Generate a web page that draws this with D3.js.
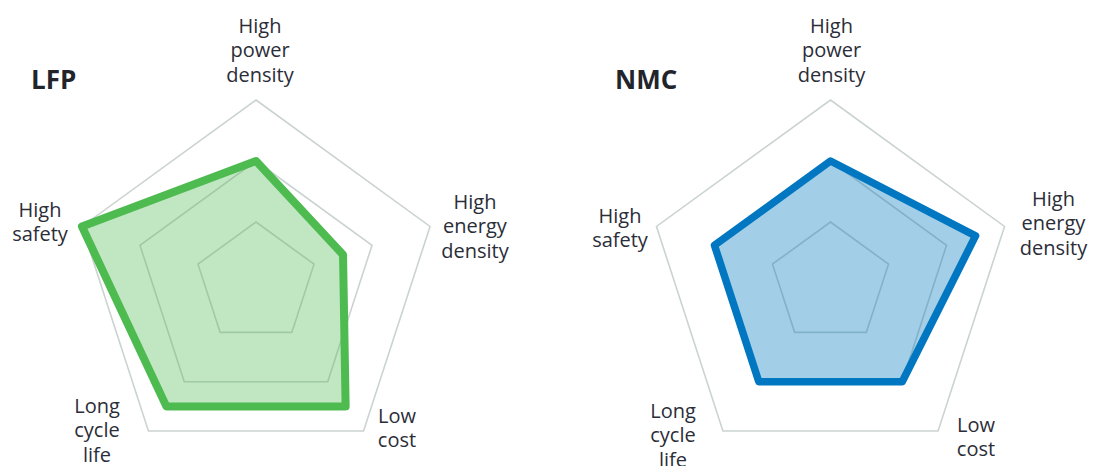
<!DOCTYPE html>
<html>
<head>
<meta charset="utf-8">
<script src="https://cdn.jsdelivr.net/npm/d3@7"></script>
<style>
  html, body { margin: 0; padding: 0; background: #ffffff; }
  svg { display: block; }
</style>
</head>
<body>
<svg id="chart" width="1094" height="466"></svg>
<script>
// Axis names (split into the lines they are drawn on)
const axisLabels = [
  ["High", "power", "density"],
  ["High", "energy", "density"],
  ["Low", "cost"],
  ["Long", "cycle", "life"],
  ["High", "safety"]
];

// Battery chemistries compared
const chemistries = ["LFP", "NMC"];

// Scores per axis, 0–3 scale, same order as axisLabels
const lfpScores = [2.0, 1.5, 2.5, 2.5, 3.0];
const nmcScores = [2.0, 2.5, 2.0, 2.0, 2.0];

// Grid rings
const ringLevels = [1, 2, 3];
const scoreMax = 3;

// ---- layout & style ----
const R = 183;
const cy = 283;
const panels = [
  {
    name: chemistries[0], scores: lfpScores, cx: 256,
    stroke: "#4dbb50", fill: "#4dbb50", fillOpacity: 0.35, strokeWidth: 8,
    title: [-225, -194],
    labels: [[4, -250], [219, -74], [141, 140], [-159, 130], [-216, -66]]
  },
  {
    name: chemistries[1], scores: nmcScores, cx: 830.5,
    stroke: "#0077c0", fill: "#0077c0", fillOpacity: 0.36, strokeWidth: 7.5,
    title: [-215.5, -194],
    labels: [[1, -250], [223, -77], [145.5, 149], [-157.5, 135], [-210.5, -60]]
  }
];

const svg = d3.select("#chart");
const n = axisLabels.length;
const angle = d3.scaleLinear().domain([0, n]).range([0, 2 * Math.PI]);
const radius = d3.scaleLinear().domain([0, scoreMax]).range([0, R]);

const polygon = d3.lineRadial()
  .angle((d, i) => angle(i))
  .curve(d3.curveLinearClosed);

panels.forEach(p => {
  const g = svg.append("g").attr("transform", `translate(${p.cx},${cy})`);

  // concentric pentagon rings
  g.selectAll("path.ring")
    .data(ringLevels)
    .join("path")
    .attr("class", "ring")
    .attr("d", lv => polygon.radius(() => radius(lv))(d3.range(n)))
    .attr("fill", "none")
    .attr("stroke", "#cbd3d0")
    .attr("stroke-width", 1.6);

  // score polygon
  g.append("path")
    .datum(p.scores)
    .attr("d", polygon.radius(d => radius(d)))
    .attr("fill", p.fill)
    .attr("fill-opacity", p.fillOpacity)
    .attr("stroke", p.stroke)
    .attr("stroke-width", p.strokeWidth)
    .attr("stroke-linejoin", "round");

  // axis labels
  const lab = g.selectAll("text.axis")
    .data(axisLabels)
    .join("text")
    .attr("class", "axis")
    .attr("x", (d, i) => p.labels[i][0])
    .attr("y", (d, i) => p.labels[i][1])
    .attr("text-anchor", "middle")
    .attr("font-family", "'Open Sans', 'Noto Sans', sans-serif")
    .attr("font-size", 20)
    .attr("fill", "#2b2d38");
  lab.each(function(lines, i) {
    d3.select(this).selectAll("tspan")
      .data(lines)
      .join("tspan")
      .attr("x", p.labels[i][0])
      .attr("dy", (d, k) => k === 0 ? 0 : 24.4)
      .text(d => d);
  });

  // chemistry title
  g.append("text")
    .attr("x", p.title[0])
    .attr("y", p.title[1])
    .attr("font-family", "'Open Sans', 'Noto Sans', sans-serif")
    .attr("font-weight", "bold")
    .attr("font-size", 26)
    .attr("fill", "#22242c")
    .text(p.name);
});
</script>
</body>
</html>
